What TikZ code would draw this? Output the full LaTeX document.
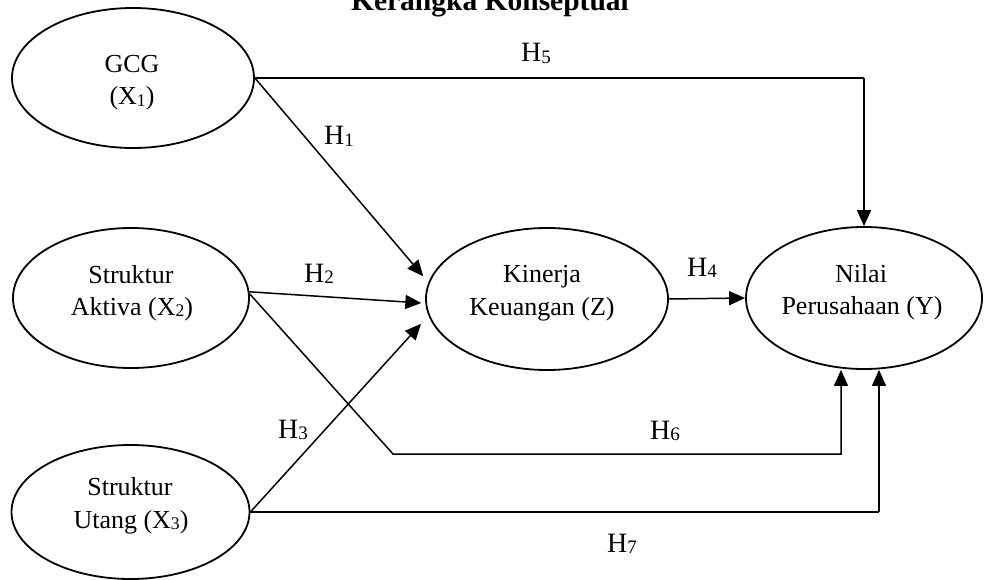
\documentclass[tikz,border=0pt]{standalone}
\usepackage{fontspec}
\setmainfont{Liberation Serif}
\usetikzlibrary{arrows.meta,shapes.geometric}
\newcommand\lowsub[1]{\raisebox{-0.07em}{\scalebox{0.68}{#1}}}
\begin{document}
\begin{tikzpicture}[x=1pt,y=-1pt,
  ell/.style={draw, ellipse, line width=1.8pt, inner sep=0pt},
  txt/.style={anchor=base, inner sep=0pt, font=\fontsize{26}{30}\selectfont},
  hl/.style={anchor=base west, inner sep=0pt, font=\fontsize{28}{30}\selectfont},
  arr/.style={line width=1.5pt, -{Triangle[length=16pt,width=14pt]}},
  thk/.style={line width=2.7pt},
  thn/.style={line width=1.5pt}]
\useasboundingbox (0,0) rectangle (985,580);

% title (cut at the top in the reference)
\node[anchor=base, inner sep=0pt, font=\bfseries\fontsize{29.5}{30}\selectfont] (title) at (490,11) {Kerangka Konseptual};

% ellipses
\node[ell, minimum width=242pt, minimum height=140pt] (gcg) at (133,78) {};
\node[ell, minimum width=236pt, minimum height=140pt] (akt) at (131,298) {};
\node[ell, minimum width=238pt, minimum height=134pt] (utg) at (130.5,512) {};
\node[ell, minimum width=242pt, minimum height=142pt] (kin) at (547,299) {};
\node[ell, minimum width=236pt, minimum height=142pt] (nil) at (864,298) {};

% ellipse texts
\node[txt] (gcga) at (132,73) {GCG};
\node[txt] (gcgb) at (132,105) {(X\lowsub{1})};
\node[txt] (akta) at (131,283) {Struktur};
\node[txt] (aktb) at (132,315) {Aktiva (X\lowsub{2})};
\node[txt] (utga) at (130,495) {Struktur};
\node[txt] (utgb) at (131,528) {Utang (X\lowsub{3})};
\node[txt] (kina) at (542,282) {Kinerja};
\node[txt] (kinb) at (542,315) {Keuangan (Z)};
\node[txt] (nila) at (861,282) {Nilai};
\node[txt] (nilb) at (862,314) {Perusahaan (Y)};

% helper coordinates
\coordinate (h6b) at (393,454);
\coordinate (y6) at ([xshift=-23pt]nil.south);
\coordinate (y7) at ([xshift=15pt]nil.south);

% connectors
\draw[thk] (gcg.east) -- (gcg.east -| nil.north);
\draw[arr] (gcg.east -| nil.north) -- (nil.north);
\draw[arr, shorten >=8pt] (gcg.east) -- (kin.172);
\draw[arr, shorten >=4pt] (akt.3) -- (kin.182);
\draw[arr, shorten >=11pt] (utg.east) -- (kin.188);
\draw[arr] (kin.east) -- (nil.west);
\draw[arr] (akt.2) -- (h6b) -| (y6);
\draw[thk] (utg.east) -- (utg.east -| y7);
\draw[arr] (utg.east -| y7) -- (y7);

% hypothesis labels
\node[hl] (lh1) at (324,145) {H\lowsub{1}};
\node[hl] (lh2) at (304,282) {H\lowsub{2}};
\node[hl] (lh3) at (278,438) {H\lowsub{3}};
\node[hl] (lh4) at (687,276) {H\lowsub{4}};
\node[hl] (lh5) at (521,62) {H\lowsub{5}};
\node[hl] (lh6) at (650,439) {H\lowsub{6}};
\node[hl] (lh7) at (607,552) {H\lowsub{7}};
\end{tikzpicture}
\end{document}
